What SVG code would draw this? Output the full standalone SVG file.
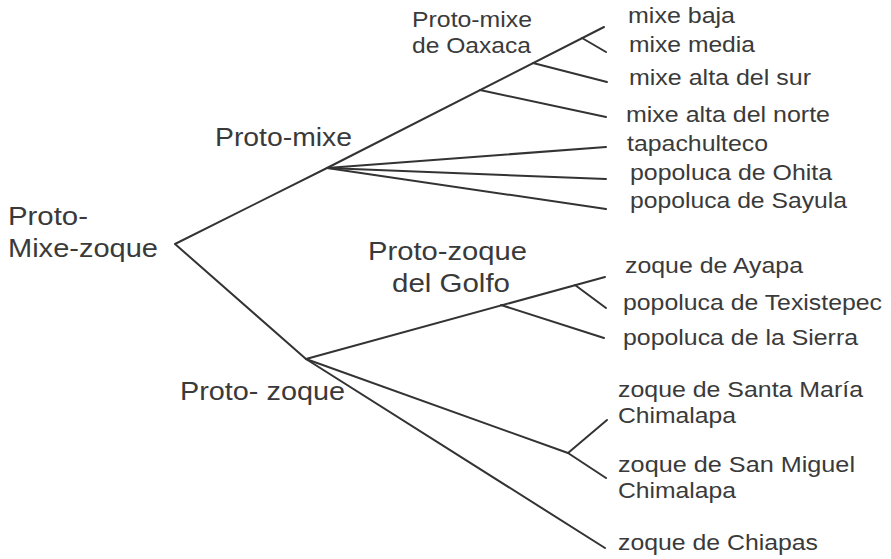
<svg xmlns="http://www.w3.org/2000/svg" width="891" height="559" viewBox="0 0 891 559">
<style>
  .ln { stroke: #333333; stroke-width: 2; fill: none; stroke-linecap: round; stroke-linejoin: round; }
  text { font-family: "Liberation Sans", Arial, sans-serif; fill: #3a3a3a; }
  .sm { font-size: 22px; }
  .lg { font-size: 26px; }
</style>
<rect width="891" height="559" fill="#ffffff"/>
<g id="connectors">
  <polyline class="ln" points="327,168 175,244 306,359"/>
  <line class="ln" x1="327" y1="168" x2="604" y2="27"/>
  <line class="ln" x1="582" y1="38" x2="606" y2="52"/>
  <line class="ln" x1="533" y1="63" x2="607" y2="82"/>
  <line class="ln" x1="480" y1="90" x2="606" y2="117"/>
  <line class="ln" x1="327" y1="168" x2="606" y2="147"/>
  <line class="ln" x1="327" y1="168" x2="606" y2="179"/>
  <line class="ln" x1="327" y1="168" x2="606" y2="209"/>
  <line class="ln" x1="306" y1="359" x2="605" y2="277"/>
  <line class="ln" x1="575" y1="285" x2="606" y2="308"/>
  <line class="ln" x1="501" y1="305" x2="604" y2="338"/>
  <polyline class="ln" points="306,359 568,453 606,478"/>
  <line class="ln" x1="568" y1="453" x2="607" y2="420"/>
  <line class="ln" x1="306" y1="359" x2="605" y2="548"/>
</g>
<g id="proto-mixe-zoque">
  <text class="lg" x="8" y="225" textLength="80" lengthAdjust="spacingAndGlyphs">Proto-</text>
  <text class="lg" x="8" y="257" textLength="150" lengthAdjust="spacingAndGlyphs">Mixe-zoque</text>
</g>
<g id="proto-mixe">
  <text class="lg" x="215" y="146" textLength="137" lengthAdjust="spacingAndGlyphs">Proto-mixe</text>
</g>
<g id="proto-mixe-oaxaca">
  <text class="sm" x="412" y="27" textLength="120" lengthAdjust="spacingAndGlyphs">Proto-mixe</text>
  <text class="sm" x="412" y="53" textLength="119" lengthAdjust="spacingAndGlyphs">de Oaxaca</text>
</g>
<g id="proto-zoque">
  <text class="lg" x="180" y="400" textLength="165" lengthAdjust="spacingAndGlyphs">Proto- zoque</text>
</g>
<g id="proto-zoque-golfo">
  <text class="lg" x="368" y="260" textLength="159" lengthAdjust="spacingAndGlyphs">Proto-zoque</text>
  <text class="lg" x="392" y="292" textLength="118" lengthAdjust="spacingAndGlyphs">del Golfo</text>
</g>
<g id="mixe-baja"><text class="sm" x="628" y="23" textLength="107" lengthAdjust="spacingAndGlyphs">mixe baja</text></g>
<g id="mixe-media"><text class="sm" x="629" y="52" textLength="126" lengthAdjust="spacingAndGlyphs">mixe media</text></g>
<g id="mixe-alta-sur"><text class="sm" x="629" y="85" textLength="182" lengthAdjust="spacingAndGlyphs">mixe alta del sur</text></g>
<g id="mixe-alta-norte"><text class="sm" x="626" y="122" textLength="204" lengthAdjust="spacingAndGlyphs">mixe alta del norte</text></g>
<g id="tapachulteco"><text class="sm" x="627" y="151" textLength="141" lengthAdjust="spacingAndGlyphs">tapachulteco</text></g>
<g id="popoluca-ohita"><text class="sm" x="630" y="180" textLength="202" lengthAdjust="spacingAndGlyphs">popoluca de Ohita</text></g>
<g id="popoluca-sayula"><text class="sm" x="630" y="208" textLength="217" lengthAdjust="spacingAndGlyphs">popoluca de Sayula</text></g>
<g id="zoque-ayapa"><text class="sm" x="625" y="273" textLength="178" lengthAdjust="spacingAndGlyphs">zoque de Ayapa</text></g>
<g id="popoluca-texistepec"><text class="sm" x="623" y="310" textLength="259" lengthAdjust="spacingAndGlyphs">popoluca de Texistepec</text></g>
<g id="popoluca-sierra"><text class="sm" x="623" y="345" textLength="235" lengthAdjust="spacingAndGlyphs">popoluca de la Sierra</text></g>
<g id="zoque-santa-maria">
  <text class="sm" x="618" y="397" textLength="245" lengthAdjust="spacingAndGlyphs">zoque de Santa María</text>
  <text class="sm" x="618" y="423" textLength="118" lengthAdjust="spacingAndGlyphs">Chimalapa</text>
</g>
<g id="zoque-san-miguel">
  <text class="sm" x="618" y="472" textLength="237" lengthAdjust="spacingAndGlyphs">zoque de San Miguel</text>
  <text class="sm" x="618" y="498" textLength="118" lengthAdjust="spacingAndGlyphs">Chimalapa</text>
</g>
<g id="zoque-chiapas"><text class="sm" x="618" y="550" textLength="200" lengthAdjust="spacingAndGlyphs">zoque de Chiapas</text></g>
</svg>
